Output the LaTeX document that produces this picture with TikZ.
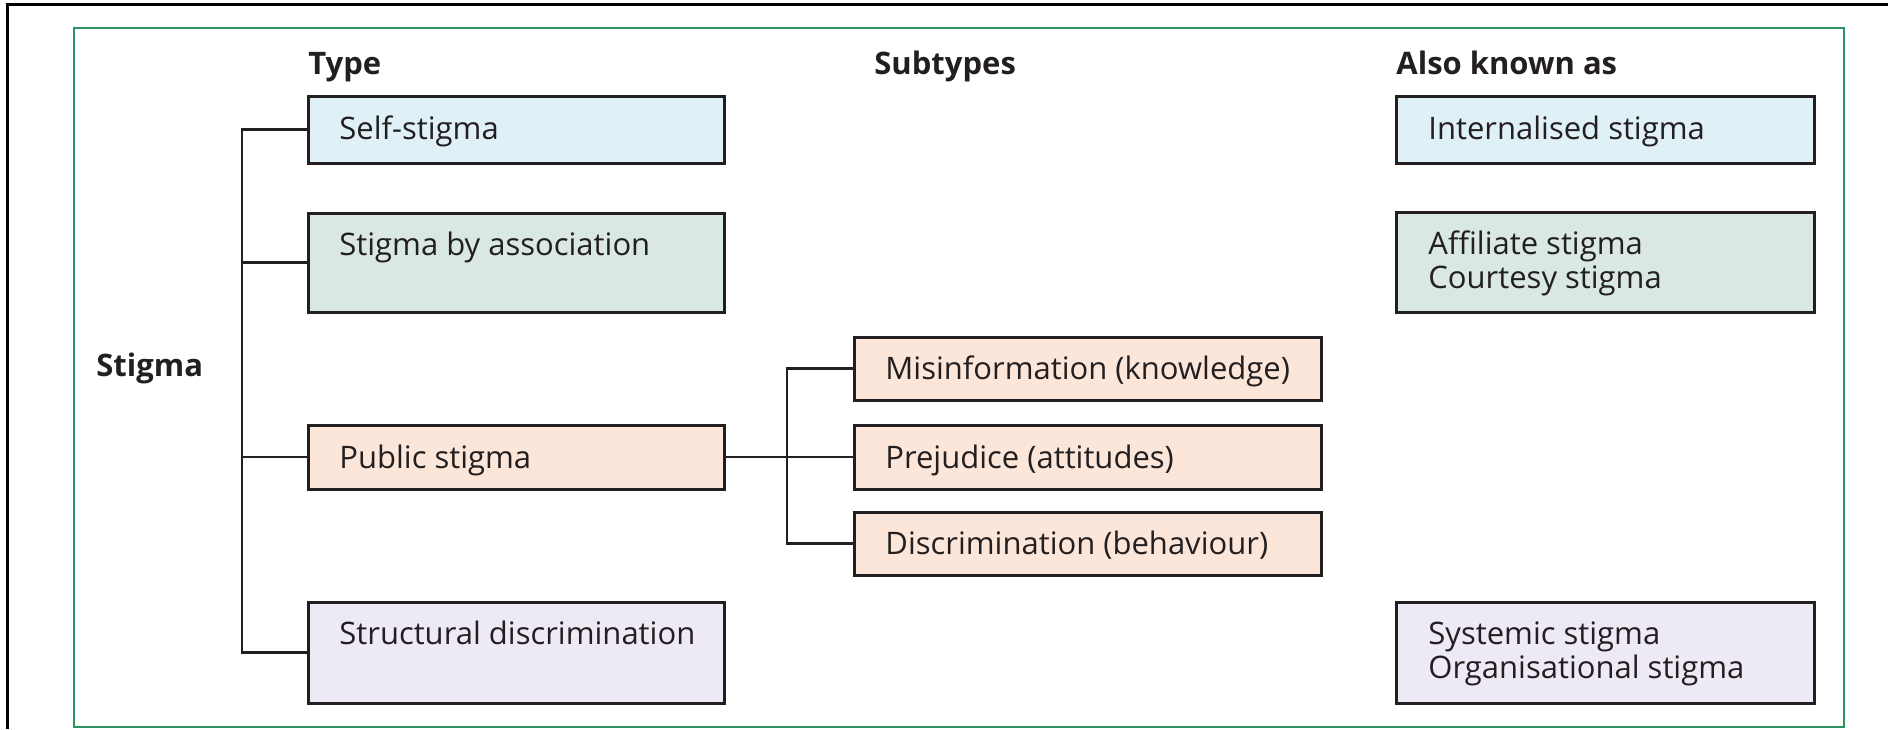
\documentclass[tikz,border=0pt]{standalone}
\usepackage{fontspec}
\setmainfont{Open Sans}
\usetikzlibrary{calc}

\definecolor{ink}{HTML}{231F20}
\definecolor{framegreen}{HTML}{2E9363}
\definecolor{fillblue}{HTML}{DFF0F7}
\definecolor{fillgreen}{HTML}{D9E8E1}
\definecolor{fillpeach}{HTML}{FCE6DA}
\definecolor{filllilac}{HTML}{EDEAF5}

% two stacked lines whose reference point is the first baseline
\newcommand\twolines[2]{\vtop{\baselineskip=17pt\hbox{#1}\hbox{#2}}}

\tikzset{
  box/.style={draw=ink, line width=1.5pt, inner sep=0pt, outer sep=0pt},
  boxtext/.style={anchor=base west, inner sep=0pt, text=ink,
    font=\fontsize{15.5}{17}\selectfont},
  head/.style={anchor=base west, inner sep=0pt, text=ink,
    font=\fontsize{15.5}{17}\selectfont\bfseries},
  conn/.style={draw=ink, line width=1.3pt},
}

\begin{document}
\begin{tikzpicture}[x=0.5pt, y=-0.5pt]
\useasboundingbox (0,0) rectangle (1888,729);

% outer rule (left and top) and the green panel
\draw[black, line width=1.5pt] (7.5,729) -- (7.5,4.5) -- (1888,4.5);
\draw[framegreen, line width=1pt] (74,28) rectangle (1844,727);

% column headings and root label
\node[head] (hType) at (308,74) {Type};
\node[head] (hSub)  at (874,74) {Subtypes};
\node[head] (hAka)  at (1396,74) {Also known as};
\node[head] (root)  at (96,376) {Stigma};

% type boxes
\node[box, fill=fillblue,  minimum width=208pt, minimum height=33.5pt] (self)   at (516,129.5) {};
\node[box, fill=fillgreen, minimum width=208pt, minimum height=49.5pt] (assoc)  at (516,262.5) {};
\node[box, fill=fillpeach, minimum width=208pt, minimum height=32pt]   (public) at (516,457)   {};
\node[box, fill=filllilac, minimum width=208pt, minimum height=50.5pt] (struct) at (516,652.5) {};

% subtype boxes
\node[box, fill=fillpeach, minimum width=233.5pt, minimum height=31.5pt] (misinfo) at (1087.5,368.5) {};
\node[box, fill=fillpeach, minimum width=233.5pt, minimum height=32pt]   (prej)    at (1087.5,457)   {};
\node[box, fill=fillpeach, minimum width=233.5pt, minimum height=31.5pt] (discr)   at (1087.5,543.5) {};

% also-known-as boxes
\node[box, fill=fillblue,  minimum width=209pt, minimum height=33.5pt] (intern) at (1605,129.5) {};
\node[box, fill=fillgreen, minimum width=209pt, minimum height=50pt]   (affil)  at (1605,262)   {};
\node[box, fill=filllilac, minimum width=209pt, minimum height=50.5pt] (system) at (1605,652.5) {};

% box texts
\node[boxtext] (selfT)    at ($(self.north west)+(31,43)$)    {Self-stigma};
\node[boxtext] (assocT)   at ($(assoc.north west)+(31,42)$)   {Stigma by association};
\node[boxtext] (publicT)  at ($(public.north west)+(31,43)$)  {Public stigma};
\node[boxtext] (structT)  at ($(struct.north west)+(31,42)$)  {Structural discrimination};
\node[boxtext] (misinfoT) at ($(misinfo.north west)+(31,42)$) {Misinformation (knowledge)};
\node[boxtext] (prejT)    at ($(prej.north west)+(31,43)$)    {Prejudice (attitudes)};
\node[boxtext] (discrT)   at ($(discr.north west)+(31,42)$)   {Discrimination (behaviour)};
\node[boxtext] (internT)  at ($(intern.north west)+(32,43)$)  {Internalised stigma};
\node[boxtext] (affilT)   at ($(affil.north west)+(32,42)$)   {\twolines{Affiliate stigma}{Courtesy stigma}};
\node[boxtext] (systemT)  at ($(system.north west)+(32,42)$)  {\twolines{Systemic stigma}{Organisational stigma}};

% tree connectors
\coordinate (trunk) at (242,0);
\coordinate (fork)  at (787,0);
\draw[conn] (self.west) -- (self.west -| trunk) -- (struct.west -| trunk) -- (struct.west);
\draw[conn] (assoc.west) -- (assoc.west -| trunk);
\draw[conn] (public.west) -- (public.west -| trunk);
\draw[conn] (public.east) -- (prej.west);
\draw[conn] (misinfo.west) -- (misinfo.west -| fork) -- (discr.west -| fork) -- (discr.west);
\end{tikzpicture}
\end{document}
